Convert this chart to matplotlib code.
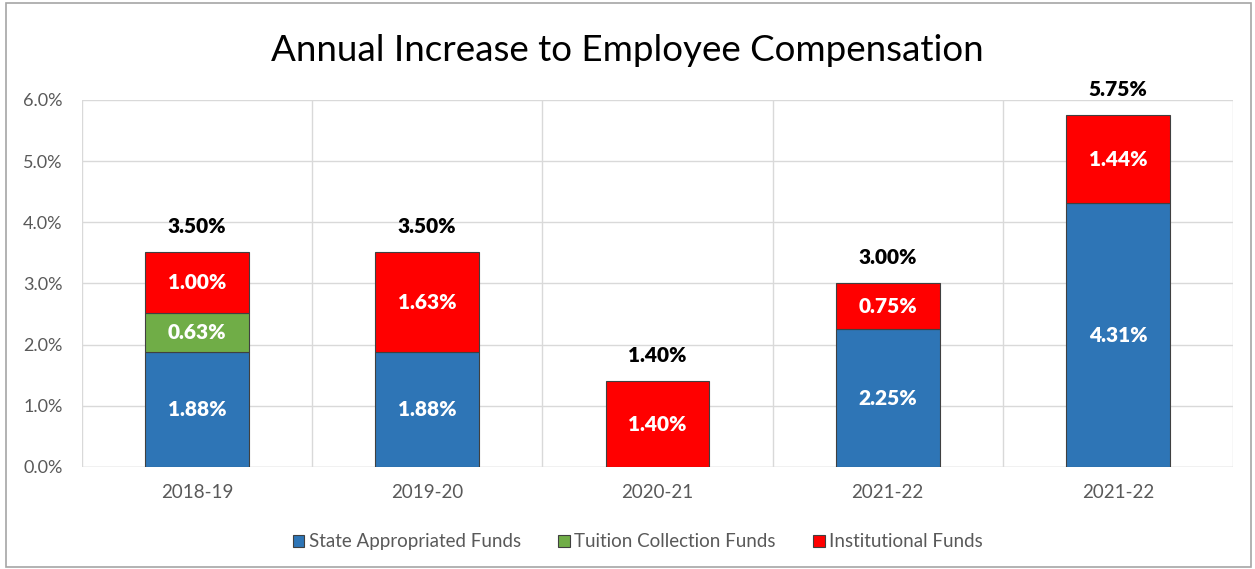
import numpy as np
import matplotlib.pyplot as plt
from matplotlib.patches import Rectangle

plt.rcParams['font.family'] = ['Lato', 'DejaVu Sans']

years = ['2018-19', '2019-20', '2020-21', '2021-22', '2021-22']
state = [1.88, 1.88, 0.0, 2.25, 4.31]
tuition = [0.63, 0.0, 0.0, 0.0, 0.0]
institutional = [1.00, 1.63, 1.40, 0.75, 1.44]
totals = [3.50, 3.50, 1.40, 3.00, 5.75]

colors = {'state': '#2E75B6', 'tuition': '#70AD47', 'inst': '#FF0000'}

fig = plt.figure(figsize=(12.55, 5.69), dpi=100)
fig.patches.append(Rectangle((0.005, 0.004), 0.992, 0.99, transform=fig.transFigure,
                             fill=False, edgecolor='#A6A6A6', linewidth=1.2))
ax = fig.add_axes([0.0653, 0.1793, 0.9172, 0.645])

x = np.arange(len(years))
w = 0.45
edge = dict(edgecolor='#404040', linewidth=0.8)
b1 = ax.bar(x, state, w, color=colors['state'], label='State Appropriated Funds', zorder=3, **edge)
b2 = ax.bar(x, tuition, w, bottom=state, color=colors['tuition'],
            label='Tuition Collection Funds', zorder=3, **edge)
bottom2 = np.array(state) + np.array(tuition)
b3 = ax.bar(x, institutional, w, bottom=bottom2, color=colors['inst'],
            label='Institutional Funds', zorder=3, **edge)

# hide empty segments
for bars, vals in [(b1, state), (b2, tuition)]:
    for b, v in zip(bars, vals):
        if v == 0:
            b.set_visible(False)

lab = dict(ha='center', va='center', color='white', fontsize=15, fontweight='heavy', zorder=4)
for i in range(len(years)):
    if state[i] > 0:
        ax.text(x[i], state[i] / 2, f'{state[i]:.2f}%', **lab)
    if tuition[i] > 0:
        ax.text(x[i], state[i] + tuition[i] / 2, f'{tuition[i]:.2f}%', **lab)
    if institutional[i] > 0:
        ax.text(x[i], bottom2[i] + institutional[i] / 2, f'{institutional[i]:.2f}%', **lab)
    ax.text(x[i], totals[i] + 0.27, f'{totals[i]:.2f}%', ha='center', va='bottom',
            fontsize=15, fontweight='heavy', color='black')

ax.set_ylim(0, 6.0)
ax.set_xlim(-0.5, len(years) - 0.5)
ax.set_yticks(np.arange(0, 6.01, 1.0))
ax.set_yticklabels([f'{v:.1f}%' for v in np.arange(0, 6.01, 1.0)])
ax.set_xticks(x)
ax.set_xticklabels(years)
ax.tick_params(axis='both', length=0, colors='#595959', labelsize=13.5)
ax.tick_params(axis='x', pad=12)
ax.tick_params(axis='y', pad=14, labelsize=13)

ax.yaxis.grid(True, color='#D9D9D9', linewidth=1, zorder=0)
for xv in np.arange(-0.5, len(years), 1.0):
    ax.axvline(xv, color='#D9D9D9', linewidth=1, zorder=0)
for s in ax.spines.values():
    s.set_visible(False)
ax.axhline(0, color='#D9D9D9', linewidth=1, zorder=2)

fig.suptitle('Annual Increase to Employee Compensation', y=0.94, fontsize=26.5, color='#000000')

ax.legend(loc='upper center', bbox_to_anchor=(0.483, -0.135), ncol=3, frameon=False,
          fontsize=13.5, handlelength=0.6, handleheight=0.6, columnspacing=2.0,
          handletextpad=0.25, labelcolor='#595959')

fig.savefig('out.png', dpi=100)
